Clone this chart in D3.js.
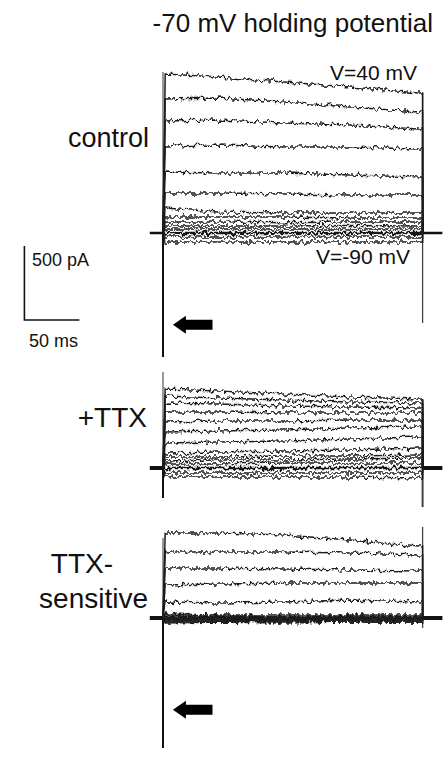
<!DOCTYPE html>
<html>
<head>
<meta charset="utf-8">
<script src="https://cdn.jsdelivr.net/npm/d3@7"></script>
<style>
  body { margin: 0; background: #fff; }
  text { font-family: "Liberation Sans", Arial, sans-serif; fill: #111; }
</style>
</head>
<body>
<svg id="chart"></svg>
<script>
// Sample times (ms after step onset) where each trace was read
const sampleMs = [2, 50, 110, 170, 232];
const pulseMs = 236;

// Current (pA) of each trace, steps V=40 mV down to V=-90 mV
const controlPA = [
    [1074, 1054, 1020, 986, 946],
    [905, 912, 885, 851, 818],
    [757, 764, 743, 730, 703],
    [588, 595, 581, 581, 568],
    [412, 405, 405, 392, 378],
    [270, 270, 264, 257, 257],
    [169, 142, 135, 135, 135],
    [108, 108, 108, 101, 101],
    [74, 74, 70, 74, 74],
    [47, 47, 47, 50, 47],
    [27, 27, 27, 27, 27],
    [0, 0, 0, 0, 0],
    [-27, -27, -27, -27, -27],
    [-61, -61, -61, -61, -61]
];
const ttxPA = [
    [534, 520, 500, 480, 466],
    [486, 473, 459, 446, 439],
    [439, 432, 419, 412, 405],
    [378, 378, 372, 372, 372],
    [311, 318, 318, 324, 324],
    [243, 250, 257, 270, 277],
    [169, 176, 182, 196, 209],
    [101, 108, 115, 122, 135],
    [74, 74, 81, 81, 88],
    [47, 54, 54, 61, 68],
    [27, 27, 34, 34, 34],
    [0, 0, 0, 0, 0],
    [-34, -34, -34, -34, -34],
    [-61, -61, -61, -61, -68]
];
const ttxSensPA = [
    [574, 574, 561, 527, 480],
    [446, 446, 446, 439, 426],
    [338, 338, 331, 324, 318],
    [223, 230, 236, 236, 236],
    [108, 101, 108, 122, 108],
    [27, 20, 20, 20, 20],
    [14, 14, 7, 14, 7],
    [7, 0, 7, 0, 7],
    [0, 0, 0, 0, 0],
    [-7, -7, -7, -7, -7],
    [-14, -14, -20, -14, -14],
    [-20, -20, -20, -20, -20],
    [-27, -27, -27, -27, -27],
    [-34, -27, -34, -27, -27]
];

// Capacitive transients at step on / off (pA)
const onsetSpike = [[1088, -838], [649, -203], [540, -878]];
const offsetSpike = [[946, -608], [466, -264], [615, -68]];

const panelNames = ["control", "+TTX", "TTX-sensitive"];

// Layout
const width = 445, height = 759;
const baselines = [233, 468, 618];
const pxPer500pA = 74;

const svg = d3.select("#chart").attr("width", width).attr("height", height);

const x = d3.scaleLinear().domain([0, 50]).range([163, 218]);

// noise filter: vertical jitter only (recording noise look)
const defs = svg.append("defs");
const f = defs.append("filter").attr("id", "noise")
    .attr("filterUnits", "userSpaceOnUse")
    .attr("x", 0).attr("y", 0).attr("width", width).attr("height", height);
f.append("feTurbulence").attr("type", "fractalNoise")
    .attr("baseFrequency", "0.28 0.12").attr("numOctaves", 2).attr("seed", 7)
    .attr("result", "turb");
f.append("feColorMatrix").attr("in", "turb").attr("type", "matrix")
    .attr("values", "0 0 0 0 0.5  0 1 0 0 0  0 0 0 0 0.5  0 0 0 0 1")
    .attr("result", "turb2");
f.append("feDisplacementMap").attr("in", "SourceGraphic").attr("in2", "turb2")
    .attr("scale", 8).attr("xChannelSelector", "R").attr("yChannelSelector", "G");

const line = d3.line().x(d => x(d[0])).y(d => d[1]);

function drawPanel(i, traces) {
    const y = d3.scaleLinear().domain([0, 500]).range([baselines[i], baselines[i] - pxPer500pA]);
    const g = svg.append("g");

    // transients (vertical lines at on/off)
    const on = onsetSpike[i], off = offsetSpike[i];
    g.append("line").attr("x1", x(0)).attr("x2", x(0))
        .attr("y1", y(on[0])).attr("y2", y(0))
        .attr("stroke", "#555").attr("stroke-width", 1.2);
    g.append("line").attr("x1", x(0)).attr("x2", x(0))
        .attr("y1", y(0)).attr("y2", y(on[1]))
        .attr("stroke", "#111").attr("stroke-width", 2);
    g.append("line").attr("x1", x(pulseMs)).attr("x2", x(pulseMs))
        .attr("y1", y(off[0])).attr("y2", y(off[1]))
        .attr("stroke", "#444").attr("stroke-width", i === 1 ? 2 : 1.3);

    // holding baseline before and after the step
    g.append("line").attr("x1", x(-12)).attr("x2", x(0))
        .attr("y1", y(0)).attr("y2", y(0))
        .attr("stroke", "#111").attr("stroke-width", i === 0 ? 2.5 : 4);
    g.append("line").attr("x1", x(pulseMs)).attr("x2", x(254))
        .attr("y1", y(0)).attr("y2", y(0))
        .attr("stroke", "#111").attr("stroke-width", i === 0 ? 2.5 : 4);

    const tg = g.append("g").attr("filter", "url(#noise)");
    // dense holding band
    tg.append("line").attr("x1", x(0)).attr("x2", x(pulseMs))
        .attr("y1", y(0)).attr("y2", y(0))
        .attr("stroke", "#111").attr("stroke-width", i === 2 ? 4 : 2.5);
    tg.selectAll("path").data(traces).enter().append("path")
        .attr("d", vals => {
            const pts = [[0, y(0)]];
            vals.forEach((v, k) => pts.push([sampleMs[k], y(v)]));
            pts.push([pulseMs, y(vals[vals.length - 1])]);
            pts.push([pulseMs, y(0)]);
            return line(pts);
        })
        .attr("fill", "none").attr("stroke", "#1c1c1c").attr("stroke-width", 1.5);
    return y;
}

const yc = drawPanel(0, controlPA);
drawPanel(1, ttxPA);
const ys = drawPanel(2, ttxSensPA);

// arrows pointing at the onset transient
function arrow(y) {
    const x0 = x(9), x1 = x(45), yc = y(-620), head = 13;
    svg.append("path")
        .attr("d", `M${x0},${yc} L${x0 + head},${yc - 9} L${x0 + head},${yc - 5} L${x1},${yc - 5} L${x1},${yc + 5} L${x0 + head},${yc + 5} L${x0 + head},${yc + 9} Z`)
        .attr("fill", "#000");
}
arrow(yc);
arrow(ys);

// scale bar: 500 pA / 50 ms
const sbX = x(-126), sbY = yc(-588);
svg.append("path")
    .attr("d", `M${sbX},${yc(-88)} L${sbX},${sbY} L${x(-76)},${sbY}`)
    .attr("fill", "none").attr("stroke", "#111").attr("stroke-width", 1.6);
svg.append("text").attr("x", 32).attr("y", 266).attr("font-size", 18).text("500 pA");
svg.append("text").attr("x", 29).attr("y", 347).attr("font-size", 18).text("50 ms");

// labels
svg.append("text").attr("x", 433).attr("y", 32).attr("text-anchor", "end")
    .attr("font-size", 26).text("-70 mV holding potential");
svg.append("text").attr("x", 417).attr("y", 80).attr("text-anchor", "end")
    .attr("font-size", 21).text("V=40 mV");
svg.append("text").attr("x", 410).attr("y", 264).attr("text-anchor", "end")
    .attr("font-size", 21).text("V=-90 mV");
svg.append("text").attr("x", 149).attr("y", 147).attr("text-anchor", "end")
    .attr("font-size", 27).text(panelNames[0]);
svg.append("text").attr("x", 147).attr("y", 427).attr("text-anchor", "end")
    .attr("font-size", 28).text(panelNames[1]);
svg.append("text").attr("x", 113).attr("y", 573).attr("text-anchor", "end")
    .attr("font-size", 28).text("TTX-");
svg.append("text").attr("x", 148).attr("y", 608).attr("text-anchor", "end")
    .attr("font-size", 28).text("sensitive");
</script>
</body>
</html>
